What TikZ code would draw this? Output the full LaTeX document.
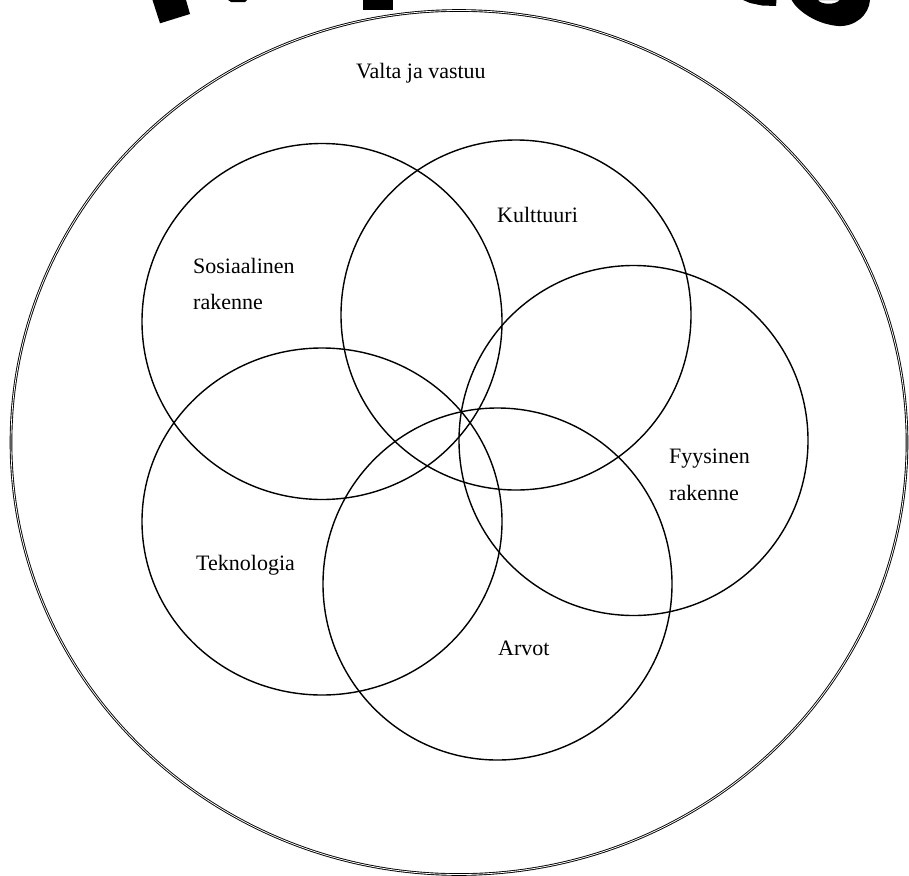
\documentclass[tikz,border=0pt]{standalone}
\usepackage{fontspec}
\setmainfont{Liberation Serif}
\begin{document}
\begin{tikzpicture}[x=1bp,y=-1bp,
  ring/.style={draw=black,line width=1.4bp},
  outerring/.style={draw=black,line width=0.9bp,double=white,double distance=0.8bp},
  lbl/.style={anchor=base west,inner sep=0pt,font=\fontsize{22bp}{26bp}\selectfont},
  glyph/.style={fill=black,draw=none}]
\useasboundingbox (0,0) rectangle (909,876);

% fragments of large title letters along the top edge
\fill[glyph] (152.5,0) -- (186,0) -- (190,14) -- (160,23.3) -- cycle;
\fill[glyph] (228,0) -- (247,0) -- (245,2) -- (231,2) -- cycle;
\fill[glyph] (363,0) -- (393,0) -- (393,10) -- (363,10) -- cycle;
\fill[glyph] (743,0) -- (750,3) -- (762,5.5) -- (776,6) -- (776.5,0) -- cycle;
\fill[glyph,even odd rule]
  (791.5,0) .. controls (797,10) and (815,24) .. (838,26)
  .. controls (855,27) and (869,15) .. (870,0) -- cycle
  (818,0) .. controls (820,4) and (834,6) .. (840,0) -- cycle;

% outer boundary
\draw[outerring] (459,442.5) ellipse [x radius=448bp, y radius=432bp];

% overlapping domains
\draw[ring] (322,321.5) ellipse [x radius=180bp, y radius=178bp];
\draw[ring] (516,315)   ellipse [x radius=175bp, y radius=175bp];
\draw[ring] (633.5,440.5) ellipse [x radius=174.5bp, y radius=175bp];
\draw[ring] (322,521.5) ellipse [x radius=180bp, y radius=173.5bp];
\draw[ring] (497.5,584) ellipse [x radius=174.5bp, y radius=176bp];

% labels
\node[lbl] (valta) at (356,78) {Valta ja vastuu};
\node[lbl] (kult) at (497,222) {Kulttuuri};
\node[lbl] (sos1) at (193,273) {Sosiaalinen};
\node[lbl] (sos2) at (193,309) {rakenne};
\node[lbl] (fyy1) at (669,463) {Fyysinen};
\node[lbl] (fyy2) at (669,500) {rakenne};
\node[lbl] (tek) at (196,570) {Teknologia};
\node[lbl] (arv) at (498,655) {Arvot};
\end{tikzpicture}
\end{document}
